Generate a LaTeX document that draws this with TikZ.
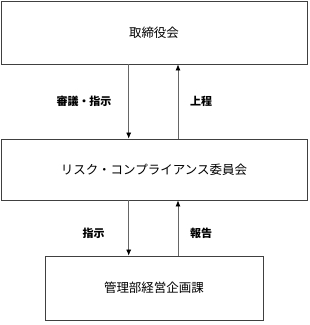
\documentclass[tikz,border=0pt]{standalone}
\usepackage{fontspec}
\newfontfamily\cjk{Noto Sans CJK JP}
\usetikzlibrary{arrows.meta}
\begin{document}
\begin{tikzpicture}[x=1pt,y=1pt,
  boxstyle/.style={draw=black!75, line width=0.8pt, inner sep=0pt, font=\cjk\fontsize{12.5}{15}\selectfont},
  arr/.style={draw=black!60, line width=0.7pt, -{Latex[length=6pt,width=5pt,color=black]}},
  lbl/.style={font=\cjk\bfseries\fontsize{11}{13}\selectfont, inner sep=0pt}]
\useasboundingbox (0,0) rectangle (310,-325);
\node[boxstyle, minimum width=306, minimum height=63] (b1) at (154,-32.5) {取締役会};
\node[boxstyle, minimum width=306, minimum height=61] (b2) at (154,-169.5) {\raisebox{-3pt}{リスク・コンプライアンス委員会}};
\node[boxstyle, minimum width=218, minimum height=64] (b3) at (154,-288) {管理部経営企画課};
\coordinate (xa) at (128.7,0);
\coordinate (xb) at (178,0);
\draw[arr] (b1.south -| xa) -- (b2.north -| xa);
\draw[arr] (b2.north -| xb) -- (b1.south -| xb);
\draw[arr] (b2.south -| xa) -- (b3.north -| xa);
\draw[arr] (b3.north -| xb) -- (b2.south -| xb);
\node[lbl] (l1) at (84,-101) {審議・指示};
\node[lbl] (l2) at (201,-101) {上程};
\node[lbl] (l3) at (93.5,-233) {指示};
\node[lbl] (l4) at (201,-233) {報告};
\end{tikzpicture}
\end{document}
